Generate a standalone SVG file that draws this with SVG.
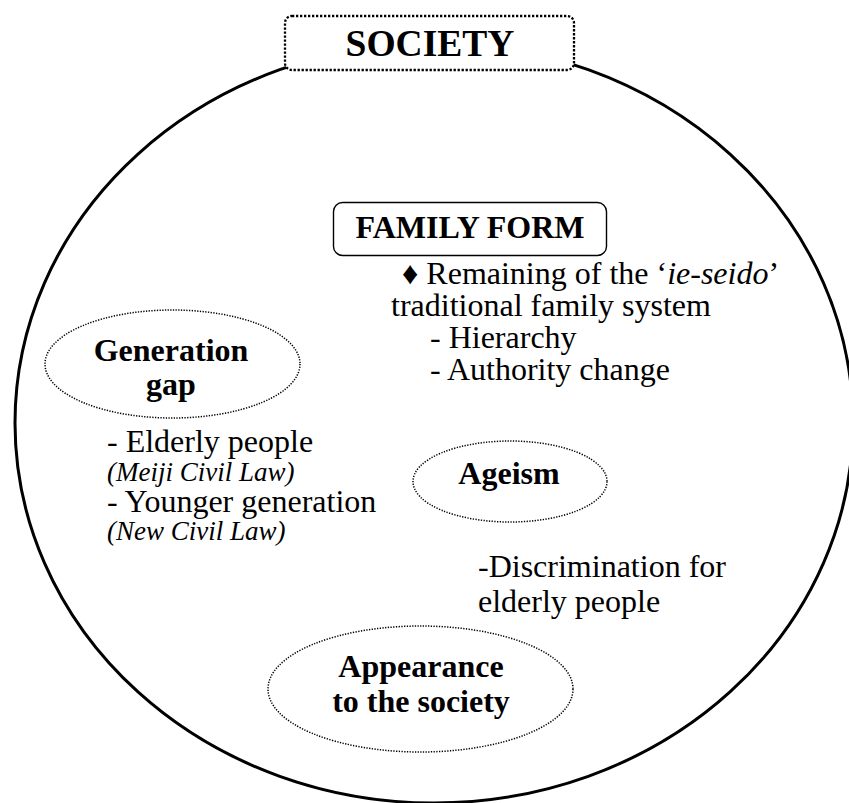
<svg xmlns="http://www.w3.org/2000/svg" width="849" height="803" viewBox="0 0 849 803">
  <style>
    text { font-family: "Liberation Serif", "Times New Roman", serif; fill: #000; }
    .title { font-size: 37.5px; font-weight: bold; text-anchor: middle; }
    .head { font-size: 32px; font-weight: bold; text-anchor: middle; }
    .body { font-size: 32px; }
    .note { font-size: 27px; font-style: italic; }
    .oval { fill: none; stroke: #000; stroke-width: 1.5; stroke-dasharray: 1.3 1.4; }
  </style>
  <rect width="849" height="803" fill="#fff"/>

  <!-- outer society boundary with its title tab -->
  <g id="society">
    <ellipse cx="434" cy="423" rx="419" ry="380" fill="none" stroke="#000" stroke-width="3"/>
    <rect x="285" y="16" width="289" height="54" rx="7" fill="#fff" stroke="#000" stroke-width="2.3" stroke-dasharray="2.3 1.7"/>
    <text class="title" x="430" y="56">SOCIETY</text>
  </g>

  <g id="family-form">
    <rect x="333.5" y="202.5" width="273" height="53" rx="9" fill="#fff" stroke="#000" stroke-width="1.4"/>
    <text class="head" x="470" y="238">FAMILY FORM</text>
    <text class="body" x="402" y="284">♦ Remaining of the ‘<tspan font-style="italic">ie-seido</tspan>’</text>
    <text class="body" x="391" y="316">traditional family system</text>
    <text class="body" x="430" y="348">- Hierarchy</text>
    <text class="body" x="430" y="380">- Authority change</text>
  </g>

  <g id="generation-gap">
    <ellipse class="oval" cx="172.5" cy="364" rx="127.5" ry="54"/>
    <text class="head" x="171" y="361">Generation</text>
    <text class="head" x="171" y="395">gap</text>
    <text class="body" x="107" y="452">- Elderly people</text>
    <text class="note" x="107" y="481">(Meiji Civil Law)</text>
    <text class="body" x="107" y="512">- Younger generation</text>
    <text class="note" x="107" y="540">(New Civil Law)</text>
  </g>

  <g id="ageism">
    <ellipse class="oval" cx="510" cy="481.5" rx="97" ry="40.5"/>
    <text class="head" x="509" y="484">Ageism</text>
    <text class="body" x="478" y="577">-Discrimination for</text>
    <text class="body" x="478" y="612">elderly people</text>
  </g>

  <g id="appearance">
    <ellipse class="oval" cx="420.5" cy="689" rx="152.5" ry="63"/>
    <text class="head" x="421" y="677">Appearance</text>
    <text class="head" x="421" y="712">to the society</text>
  </g>
</svg>
